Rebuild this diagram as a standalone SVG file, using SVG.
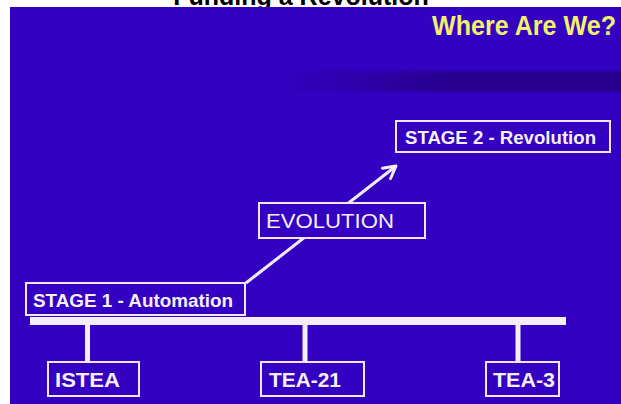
<svg xmlns="http://www.w3.org/2000/svg" width="621" height="404" viewBox="0 0 621 404">
  <defs>
    <style>
      .box { fill: #3400c2; stroke: #f1e6f4; stroke-width: 2; }
      .lbl { fill: #f5f0f8; font-family: "Liberation Sans", Arial, sans-serif; font-weight: bold; }
      .conn { stroke: #f5eef8; fill: none; }
    </style>
    <linearGradient id="band" gradientUnits="userSpaceOnUse" x1="280" y1="0" x2="450" y2="0">
      <stop offset="0" stop-color="#27008c" stop-opacity="0"/>
      <stop offset="1" stop-color="#27008c" stop-opacity="1"/>
    </linearGradient>
    <linearGradient id="bandV" x1="0" y1="0" x2="0" y2="1">
      <stop offset="0" stop-color="#fff" stop-opacity="0.2"/>
      <stop offset="0.25" stop-color="#fff" stop-opacity="1"/>
      <stop offset="0.85" stop-color="#fff" stop-opacity="1"/>
      <stop offset="1" stop-color="#fff" stop-opacity="0.2"/>
    </linearGradient>
    <mask id="bandMask">
      <rect x="10" y="69" width="611" height="24" fill="url(#bandV)"/>
    </mask>
    <marker id="arr" viewBox="0 0 16 16" refX="14" refY="8" markerWidth="16" markerHeight="16" markerUnits="userSpaceOnUse" orient="auto">
      <path d="M2,1.5 L14,8 L2,14.5" fill="none" stroke="#f5eef8" stroke-width="3" stroke-linecap="round" stroke-linejoin="round"/>
    </marker>
  </defs>

  <rect x="0" y="0" width="621" height="404" fill="#ffffff"/>
  <text x="301" y="5" text-anchor="middle" font-family="'Liberation Sans', Arial, sans-serif" font-weight="bold" font-size="25" fill="#000000">Funding a Revolution</text>

  <rect x="10" y="7" width="611" height="397" fill="#3400c2"/>
  <rect x="10" y="69" width="611" height="24" fill="url(#band)" mask="url(#bandMask)"/>

  <text x="432" y="35" font-family="'Liberation Sans', Arial, sans-serif" font-weight="bold" font-size="28" fill="#f2f06a" textLength="184" lengthAdjust="spacingAndGlyphs">Where Are We?</text>

  <g id="connectors">
    <line class="conn" x1="246" y1="283" x2="396" y2="166" stroke-width="3" marker-end="url(#arr)"/>
    <rect x="30" y="317" width="536" height="8" fill="#f5eef8"/>
    <line class="conn" x1="87.5" y1="325" x2="87.5" y2="362" stroke-width="5"/>
    <line class="conn" x1="305" y1="325" x2="305" y2="362" stroke-width="5"/>
    <line class="conn" x1="518" y1="325" x2="518" y2="362" stroke-width="5"/>
  </g>

  <g id="stage2">
    <rect class="box" x="396" y="121" width="214" height="31"/>
    <text class="lbl" x="405" y="144" font-size="19" textLength="191" lengthAdjust="spacingAndGlyphs">STAGE 2 - Revolution</text>
  </g>

  <g id="evolution">
    <rect class="box" x="259" y="203" width="166" height="35"/>
    <text x="266" y="228" font-family="'Liberation Sans', Arial, sans-serif" font-size="21" fill="#f5f0f8" textLength="128" lengthAdjust="spacingAndGlyphs">EVOLUTION</text>
  </g>

  <g id="stage1">
    <rect class="box" x="26" y="283" width="219" height="32"/>
    <text class="lbl" x="33" y="307" font-size="19" textLength="200" lengthAdjust="spacingAndGlyphs">STAGE 1 - Automation</text>
  </g>

  <g id="istea">
    <rect class="box" x="48" y="362" width="91" height="34"/>
    <text class="lbl" x="55" y="387" font-size="21" textLength="65" lengthAdjust="spacingAndGlyphs">ISTEA</text>
  </g>

  <g id="tea21">
    <rect class="box" x="261" y="362" width="103" height="34"/>
    <text class="lbl" x="269" y="387" font-size="21" textLength="72" lengthAdjust="spacingAndGlyphs">TEA-21</text>
  </g>

  <g id="tea3">
    <rect class="box" x="486" y="362" width="73" height="34"/>
    <text class="lbl" x="493" y="387" font-size="21" textLength="62" lengthAdjust="spacingAndGlyphs">TEA-3</text>
  </g>
</svg>
